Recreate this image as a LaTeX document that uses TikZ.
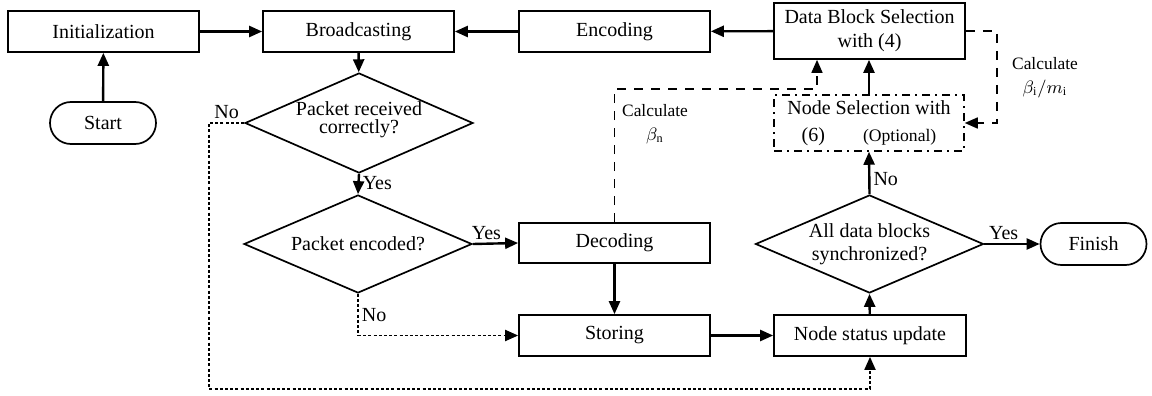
\documentclass[tikz,border=0pt]{standalone}
\usepackage{fontspec}
\setmainfont{Liberation Serif}
\usetikzlibrary{arrows.meta,shapes.geometric,calc}
\begin{document}
\begin{tikzpicture}[x=0.5pt,y=-0.5pt,
  every node/.style={font=\fontsize{10}{12}\selectfont},
  box/.style={draw,line width=0.85pt,rectangle,inner sep=0pt,minimum width=95.5pt,minimum height=20.5pt,align=center},
  term/.style={draw,line width=0.85pt,rectangle,rounded corners=10.5pt,inner sep=0pt,minimum width=53pt,minimum height=21pt},
  dec/.style={draw,line width=0.85pt,diamond,inner sep=0pt,minimum width=114pt,minimum height=49pt},
  arr/.style={line width=1.2pt,-{Triangle[length=6.5pt,width=5.5pt]}},
  dotarr/.style={line width=0.95pt,dash pattern=on 1.5pt off 1.1pt,-{Triangle[length=6.5pt,width=5.5pt]}},
  dasharr/.style={line width=0.8pt,dash pattern=on 4.5pt off 4pt,-{Triangle[length=6.5pt,width=5.5pt]}},
  lbl/.style={font=\fontsize{10}{12}\selectfont,inner sep=1.5pt},
  small/.style={font=\fontsize{8.7}{11}\selectfont,inner sep=0pt,align=center}
]
\useasboundingbox (0,0) rectangle (1152,396);

% top row
\node[box] (init) at (103.5,31.5) {Initialization};
\node[box] (bcast) at (358.5,31.5) {Broadcasting};
\node[box] (enc) at (614.5,31.5) {Encoding};
\node[box,minimum height=28pt] (dbs) at (869.5,31) {Data Block Selection\\with (4)};

\node[term] (start) at (103,123) {Start};

% decisions
\node[dec,minimum height=50pt,label={[align=center,font=\fontsize{10}{9}\selectfont,yshift=1.5pt]center:Packet received\\correctly?}] (d1) at (359,123) {};
\node[dec,label={[align=center]center:Packet encoded?}] (d2) at (358,244) {};
\node[dec,label={[align=center,font=\fontsize{10}{11.5}\selectfont]center:All data blocks\\synchronized?}] (d3) at (869.5,244) {};

% process boxes
\node[box,minimum height=20pt] (decod) at (614.5,243) {Decoding};
\node[box] (sto) at (614.5,335.5) {Storing};
\node[box,minimum width=96pt] (nsu) at (870,335.5) {Node status update};
\node[term] (fin) at (1093.5,244) {Finish};

\node[draw,line width=0.75pt,dash pattern=on 4pt off 2.5pt on 1pt off 2.5pt,rectangle,inner sep=0pt,
  minimum width=95pt,minimum height=28pt,align=center,font=\fontsize{10}{13.5}\selectfont] (nsel) at (869,123)
  {Node Selection with\\(6)\hspace{19pt}{\fontsize{8.8}{10}\selectfont(Optional)}};

% solid connectors
\draw[arr] (start) -- (init);
\draw[arr] (init) -- (bcast);
\draw[arr] (enc) -- (bcast);
\draw[arr] (dbs) -- (enc);
\draw[arr] (bcast) -- (d1);
\draw[arr] (d1.south) -- node[lbl,right,pos=0.45] {Yes} (d2.north);
\draw[arr] (d2.east) -- node[lbl,above,pos=0.3] {Yes} (decod.west);
\draw[arr] (decod) -- (sto);
\draw[arr] (sto) -- (nsu);
\draw[arr] (nsu) -- (d3.south);
\draw[arr] (d3.north) -- node[lbl,right,pos=0.35] {No} (nsel.south);
\draw[arr] (nsel.north) -- (nsel.north |- dbs.south);
\draw[arr] (d3.east) -- node[lbl,above,pos=0.35] {Yes} (fin.west);

% dotted connectors
\coordinate (n1) at (209,123);
\coordinate (n2) at (209,389);
\draw[dotarr] (d1.west) -- node[lbl,above,pos=0.5] {No} (n1) -- (n2) -| (nsu.south);
\draw[dotarr] (d2.south) -- node[lbl,right,pos=0.5] {No} (d2.south |- sto.west) -- (sto.west);

% dashed connectors
\coordinate (c1) at (614.5,89);
\coordinate (c2) at (817,89);
\draw[dasharr] (decod.north) -- (c1) -- (c2) -- (c2 |- dbs.south);
\node[small] (calcn) at (655,124) {Calculate\\[1pt]$\beta_{\mathrm{n}}$};

\coordinate (c3) at (997,31);
\draw[dasharr] (dbs.east) -- (c3) |- (nsel.east);
\node[small] (calci) at (1045,78) {Calculate\\[1pt]$\beta_{\mathrm{i}}/m_{\mathrm{i}}$};
\end{tikzpicture}
\end{document}
